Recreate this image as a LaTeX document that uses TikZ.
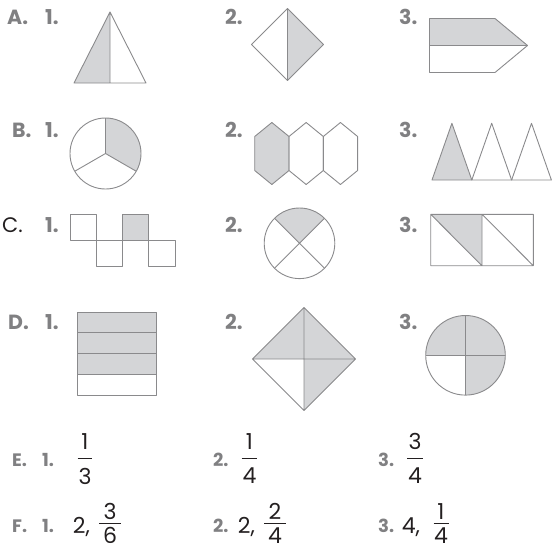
\documentclass[tikz,border=0pt]{standalone}
\usepackage{fontspec}
\setmainfont{Poppins}
\usetikzlibrary{calc}
\definecolor{linegray}{RGB}{138,138,140}
\definecolor{shadegray}{RGB}{212,213,215}
\definecolor{lblgray}{RGB}{128,128,130}
\definecolor{ink}{RGB}{35,31,32}

\begin{document}
\begin{tikzpicture}[x=1pt, y=-1pt,
  fig/.style={draw=linegray, line width=0.9pt, line join=round},
  shd/.style={fill=shadegray},
  lbl/.style={anchor=west, inner sep=0, text=lblgray, font=\fontsize{20.5}{22}\selectfont\bfseries},
  slbl/.style={lbl, font=\fontsize{18}{20}\selectfont\bfseries},
  num/.style={inner sep=0, text=ink, font=\fontsize{22}{26}\selectfont},
  bar/.style={draw=ink, line width=1.1pt}]
\useasboundingbox (0,0) rectangle (552,554);

% row labels
\node[lbl] (A) at (7,17) {A.};   \node[lbl] (A1) at (45,17) {1.};
\node[lbl] (A2) at (225,17) {2.}; \node[lbl] (A3) at (399,17) {3.};
\node[lbl] (B) at (12,130) {B.};  \node[lbl] (B1) at (45,130) {1.};
\node[lbl] (B2) at (225,130) {2.}; \node[lbl] (B3) at (399,130) {3.};
\node[lbl, text=ink, font=\fontsize{21}{22}\selectfont] (C) at (2,225) {C.};
\node[lbl] (C1) at (45,225) {1.};
\node[lbl] (C2) at (225,225) {2.}; \node[lbl] (C3) at (399,225) {3.};
\node[lbl] (D) at (8,322) {D.};   \node[lbl] (D1) at (45,322) {1.};
\node[lbl] (D2) at (225,322) {2.}; \node[lbl] (D3) at (399,322) {3.};
\node[slbl] (E) at (12,460) {E.}; \node[slbl] (E1) at (42,460) {1.};
\node[slbl] (E2) at (213,460) {2.}; \node[slbl] (E3) at (378,460) {3.};
\node[slbl] (F) at (12,526) {F.}; \node[slbl] (F1) at (42,526) {1.};
\node[slbl] (F2) at (213,526) {2.}; \node[slbl] (F3) at (378,526) {3.};

% A
\fill[shd] (110,12) -- (74,83) -- (110,83) -- cycle;
\draw[fig] (110,12) -- (74,83) -- (146,83) -- cycle (110,12) -- (110,83);
\fill[shd] (287.5,8.5) -- (323.5,44.5) -- (287.5,80.5) -- cycle;
\draw[fig] (287.5,8.5) -- (323.5,44.5) -- (287.5,80.5) -- (251.5,44.5) -- cycle
  (287.5,8.5) -- (287.5,80.5);
\fill[shd] (429.5,18.5) -- (495,18.5) -- (527.5,45.5) -- (429.5,45.5) -- cycle;
\draw[fig] (429.5,18.5) -- (495,18.5) -- (527.5,45.5) -- (495,72.5) -- (429.5,72.5) -- cycle
  (429.5,45.5) -- (527.5,45.5);

% B
\fill[shd] (105.5,153.5) -- +(-90:35.5) arc[start angle=-90, end angle=30, radius=35.5] -- cycle;
\draw[fig] (105.5,153.5) circle[radius=35.5];
\draw[fig] (105.5,153.5) -- +(-90:35.5) (105.5,153.5) -- +(30:35.5) (105.5,153.5) -- +(150:35.5);
\fill[shd] (254.7,136.5) -- (271.85,122.5) -- (289,136.5) -- (289,170.5) -- (271.85,184.5) -- (254.7,170.5) -- cycle;
\foreach \x in {254.7, 289, 323.3}
  \draw[fig] (\x,136.5) -- (\x+17.15,122.5) -- (\x+34.3,136.5) -- (\x+34.3,170.5)
    -- (\x+17.15,184.5) -- (\x,170.5) -- cycle;
\fill[shd] (432,180) -- (451.9,123.3) -- (471.8,180) -- cycle;
\foreach \x in {432, 471.8, 511.6}
  \draw[fig] (\x,180) -- (\x+19.9,123.3) -- (\x+39.8,180) -- cycle;

% C
\fill[shd] (122.6,214.3) rectangle (148.9,240.6);
\draw[fig] (70,214.3) rectangle (96.3,240.6) (96.3,240.6) rectangle (122.6,266.9)
  (122.6,214.3) rectangle (148.9,240.6) (148.9,240.6) rectangle (175.2,266.9);
\fill[shd] (299.5,243.3) -- +(-135:35.3) arc[start angle=-135, end angle=-45, radius=35.3] -- cycle;
\draw[fig] (299.5,243.3) circle[radius=35.3];
\draw[fig] (299.5,243.3) +(-135:35.3) -- +(45:35.3) (299.5,243.3) +(-45:35.3) -- +(135:35.3);
\fill[shd] (430.7,214.3) -- (482,214.3) -- (482,265.7) -- cycle;
\draw[fig] (430.7,214.3) rectangle (533.3,265.7) (482,214.3) -- (482,265.7)
  (430.7,214.3) -- (482,265.7) (482,214.3) -- (533.3,265.7);

% D
\fill[shd] (77.3,312) rectangle (156.7,374.25);
\draw[fig] (77.3,312) rectangle (156.7,395);
\foreach \y in {332.75, 353.5, 374.25}
  \draw[fig] (77.3,\y) -- (156.7,\y);
\fill[shd] (304,307.5) -- (355.5,359) -- (304,410.5) -- (304,359) -- (252.5,359) -- cycle;
\draw[fig] (304,307.5) -- (355.5,359) -- (304,410.5) -- (252.5,359) -- cycle
  (304,307.5) -- (304,410.5) (252.5,359) -- (355.5,359);
\fill[shd] (465.5,355.3) -- +(180:39.8) arc[start angle=180, end angle=450, radius=39.8] -- cycle;
\draw[fig] (465.5,355.3) circle[radius=39.8];
\draw[fig] (465.5,355.3) +(180:39.8) -- +(0:39.8) (465.5,355.3) +(-90:39.8) -- +(90:39.8);

% E
\node[num] (E1n) at (85,441.5) {1};    \node[num] (E1d) at (85,476) {3};
\draw[bar] ($(E1n)!.5!(E1d)$) +(-7.3,0) -- +(7.3,0);
\node[num] (E2n) at (249.5,441.5) {1}; \node[num] (E2d) at (249.5,476) {4};
\draw[bar] ($(E2n)!.5!(E2d)$) +(-7.8,0) -- +(7.8,0);
\node[num] (E3n) at (415,441.5) {3};   \node[num] (E3d) at (415,476) {4};
\draw[bar] ($(E3n)!.5!(E3d)$) +(-7.7,0) -- +(7.7,0);

% F
\node[num, anchor=base west] (F1w) at (72.7,533) {2,};
\node[num] (F1n) at (110,511.7) {3};   \node[num] (F1d) at (110,535.7) {6};
\draw[bar] ($(F1n)!.5!(F1d)$) +(-10.7,0) -- +(10.7,0);
\node[num, anchor=base west] (F2w) at (237.7,533) {2,};
\node[num] (F2n) at (275,511.7) {2};   \node[num] (F2d) at (275,535.7) {4};
\draw[bar] ($(F2n)!.5!(F2d)$) +(-10.7,0) -- +(10.7,0);
\node[num, anchor=base west] (F3w) at (401.7,533) {4,};
\node[num] (F3n) at (441,511.7) {1};   \node[num] (F3d) at (441,535.7) {4};
\draw[bar] ($(F3n)!.5!(F3d)$) +(-7.5,0) -- +(7.5,0);
\end{tikzpicture}
\end{document}
